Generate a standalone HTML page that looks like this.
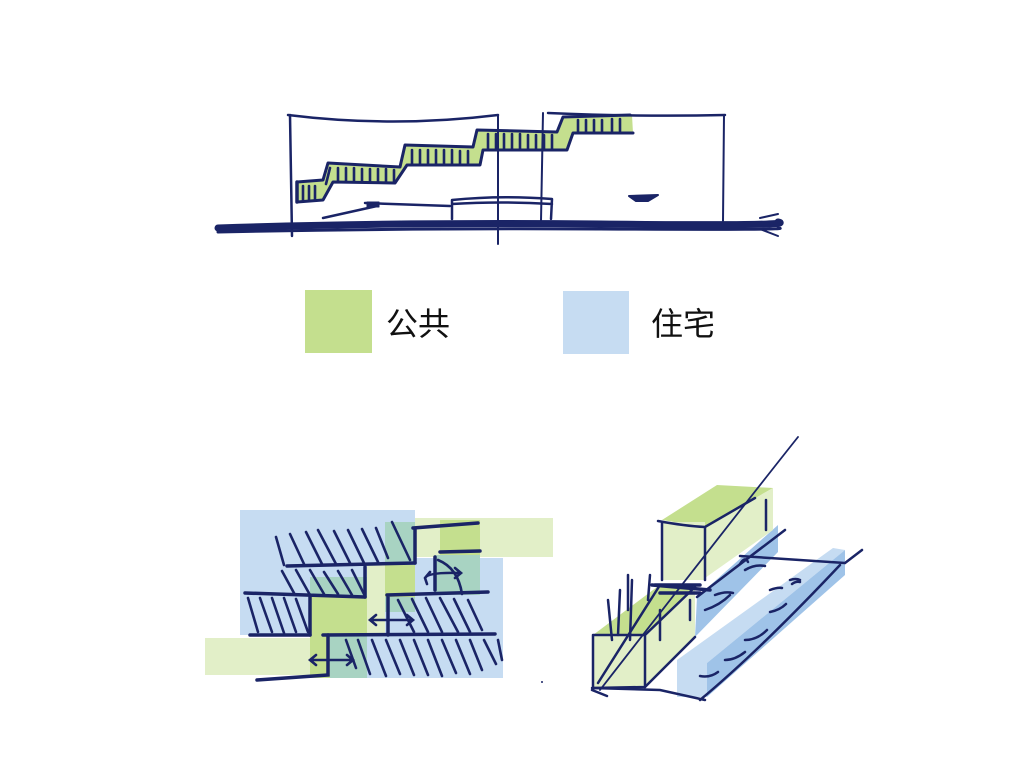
<!DOCTYPE html>
<html><head><meta charset="utf-8"><style>
html,body{margin:0;padding:0;background:#fff;}
svg{display:block;}
text{font-family:"Liberation Sans","Noto Sans CJK SC",sans-serif;}
</style></head><body>
<svg width="1024" height="768" viewBox="0 0 1024 768" xmlns="http://www.w3.org/2000/svg">
<g fill="none" stroke="#1a2466" stroke-linecap="round" stroke-linejoin="round">
<!-- TOP SECTION -->
<polygon points="297,182 323,180 328,163 400,167 405,145 473,147 477,130 557,132 563,117 632,115 633,133 573,133 567,150 483,150 480,165 407,165 395,183 333,182 323,200 297,202" fill="#c4df8e" stroke="none"/>
<polyline points="297,182 323,180 328,163 400,167 405,145 473,147 477,130 557,132 563,117 630,115" stroke-width="3"/>
<polyline points="297,202 323,200 333,182 395,183 407,165 480,165 483,150 567,150 573,133 633,133" stroke-width="3"/>
<line x1="297" y1="182" x2="297" y2="202" stroke-width="3.5"/>
<g stroke-width="2.6">
<path d="M303,186v14M309,186v14M315,186v14M330,168l-4,16M338,168v13M346,168v13M354,168v13M362,169v13M370,169v13M378,169v13M386,169v13M394,170v12M412,150v14M420,150v14M428,150v14M436,150v14M444,150v14M452,150v14M460,151v13M468,151v13M488,134v15M496,134v15M504,134v15M512,134v15M520,134v15M528,135v14M536,135v14M544,135v14M552,135v14M578,120v12M586,120v12M594,120v12M602,120v12M612,119v12M620,119v12"/>
</g>
<path d="M288,115 Q393,128 498,115" stroke-width="2.5"/>
<path d="M290,115 L292,236" stroke-width="2.5"/>
<path d="M498,115 L498,244" stroke-width="2"/>
<path d="M548,113 Q640,117 725,115" stroke-width="2.5"/>
<path d="M543,113 L541,221" stroke-width="2"/>
<path d="M724,115 L723,221" stroke-width="2"/>
<path d="M323,218 L377,206 M365,203 L450,206" stroke-width="2.5"/>
<rect x="367" y="202" width="12" height="5" fill="#1a2466"/>
<path d="M452,219 L452,200 Q500,195 552,199 L551,219 M452,204 Q500,201 552,204" stroke-width="2.5"/>
<path d="M629,196 L658,195 L648,201 L636,201 Z" fill="#1a2466" stroke-width="2"/>
<path d="M218,228 Q400,222 600,224 T778,222" stroke-width="7"/>
<path d="M218,232 Q400,228 600,229 T778,228" stroke-width="3"/>
<path d="M760,218 L778,214 M760,229 L778,236" stroke-width="2"/>
</g>

<!-- LEGEND -->
<rect x="305" y="290" width="67" height="63" fill="#c4df8e"/>
<text x="386" y="335" font-size="32" fill="#111">公共</text>
<rect x="563" y="291" width="66" height="63" fill="#c6dcf2"/>
<text x="651" y="335" font-size="32" fill="#111">住宅</text>

<!-- LEFT PLAN -->
<g stroke="none">
<rect x="240" y="510" width="175" height="125" fill="#c6dcf2"/>
<rect x="367" y="558" width="136" height="120" fill="#c6dcf2"/>
<rect x="330" y="635" width="173" height="43" fill="#c6dcf2"/>
<rect x="415" y="518" width="138" height="39" fill="#e2efc8"/>
<rect x="440" y="520" width="40" height="36" fill="#c4df8e"/>
<rect x="205" y="638" width="105" height="37" fill="#e2efc8"/>
<rect x="310" y="577" width="57" height="58" fill="#c4df8e"/>
<rect x="310" y="577" width="57" height="20" fill="#a8d3c2"/>
<rect x="310" y="635" width="20" height="43" fill="#c4df8e"/>
<rect x="330" y="635" width="37" height="43" fill="#a8d3c2"/>
<rect x="367" y="565" width="18" height="70" fill="#e2efc8"/>
<rect x="385" y="522" width="30" height="43" fill="#a8d3c2"/>
<rect x="385" y="565" width="30" height="32" fill="#c4df8e"/>
<rect x="385" y="597" width="30" height="15" fill="#a8d3c2"/>
<rect x="435" y="555" width="45" height="40" fill="#a8d3c2"/>
</g>
<g fill="none" stroke="#1a2466" stroke-linecap="round" stroke-width="2.6">
<path d="M276,537 l8,28 M290,534 l14,30 M306,532 l16,32 M318,530 l18,34 M334,531 l16,32 M348,530 l16,33 M362,529 l16,33 M376,528 l12,30 M392,522 l18,38"/>
<path d="M282,571 l12,22 M296,570 l14,25 M310,570 l14,24 M324,572 l14,22 M338,571 l14,24 M352,570 l12,24"/>
<path d="M248,598 l10,34 M260,598 l12,34 M272,598 l12,35 M284,598 l12,34 M296,599 l12,33"/>
<path d="M398,600 l16,32 M412,599 l16,33 M426,598 l16,34 M440,598 l18,34 M454,599 l16,33 M468,600 l14,30 M438,560 q20,8 24,34"/>
<path d="M346,640 l10,28 M358,640 l12,34 M372,640 l14,36 M386,640 l14,34 M400,640 l14,35 M414,640 l14,35 M428,640 l14,36 M442,640 l14,33 M456,640 l14,34 M470,640 l12,30 M484,640 l12,24 M498,640 l4,20"/>
<g stroke-width="3.5">
<path d="M413,528 L478,523 M415,528 L415,563 M440,552 L480,551"/>
<path d="M287,566 L415,563 M365,567 L365,597"/>
<path d="M245,593 L365,597 M310,595 L310,635"/>
<path d="M387,595 L488,592 M388,597 L388,635 M435,557 L435,590"/>
<path d="M250,635 L310,635 M323,635 L495,634"/>
<path d="M328,635 L328,675 L257,680"/>
</g>
<path d="M310,660 H353 M316,655 l-6,5 6,5 M347,655 l6,5 -6,5"/>
<path d="M370,620 H413 M376,615 l-6,5 6,5 M407,615 l6,5 -6,5"/>
<path d="M425,578 Q428,572 460,573 M455,568 l6,5 -6,5 M430,572 l-5,6 M425,578 l2,6"/>
</g>

<!-- RIGHT PERSPECTIVE -->
<g stroke="none">
<polygon points="697,597 778,525 778,552 695,637" fill="#9fc3e8"/>
<polygon points="662,520 717,485 773,488 705,527" fill="#c4df8e"/>
<polygon points="705,527 773,488 773,530 705,578" fill="#e2efc8"/>
<rect x="662" y="522" width="43" height="58" fill="#e2efc8"/>
<polygon points="593,635 657,587 695,587 645,635" fill="#c4df8e"/>
<polygon points="645,635 695,587 695,637 645,687" fill="#e2efc8"/>
<rect x="593" y="635" width="52" height="52" fill="#e2efc8"/>
<polygon points="677,660 833,548 845,550 707,663" fill="#c6dcf2"/>
<polygon points="707,663 845,550 845,575 707,697" fill="#9fc3e8"/>
<rect x="677" y="660" width="30" height="37" fill="#c6dcf2"/>
</g>
<g fill="none" stroke="#1a2466" stroke-linecap="round" stroke-width="2.5">
<path d="M798,437 Q740,510 600,690" stroke-width="1.8"/>
<path d="M658,521 Q685,526 705,527 L755,498 M705,527 L705,580 M662,522 L662,580 M766,500 L766,530"/>
<path d="M655,585 L700,585 M652,585 L710,590 M660,593 L700,593" stroke-width="3.5"/>
<path d="M593,635 L645,635 L695,587 M593,635 L593,688 M645,635 L645,687 M593,688 L645,687 M598,683 L660,585"/>
<path d="M592,690 L607,696 M592,688 L660,690 L705,700 M645,687 L695,637 M660,610 L660,640 M690,620 L690,600"/>
<path d="M628,575 L628,610 M632,580 L630,640 M608,600 L612,640 M620,590 L618,635 M650,575 L648,600"/>
<path d="M697,597 L785,530 M740,556 L845,563 M845,563 L862,550 M700,700 Q760,650 840,565 M705,610 Q720,605 730,595 M745,570 q10,-6 20,-4 M715,595 q10,-4 18,-2 M770,590 q8,-3 12,-2 M790,580 q6,-2 10,0 M745,640 q12,0 22,-10 M725,660 q10,0 20,-8 M700,676 q10,2 18,-4 M770,612 q10,-2 16,-8"/>
<path d="M740,564 q5,-8 8,-2 M792,584 q4,-3 8,-2"/>
</g>
<circle cx="542" cy="682" r="1" fill="#1a2466"/>
</svg>
</body></html>
